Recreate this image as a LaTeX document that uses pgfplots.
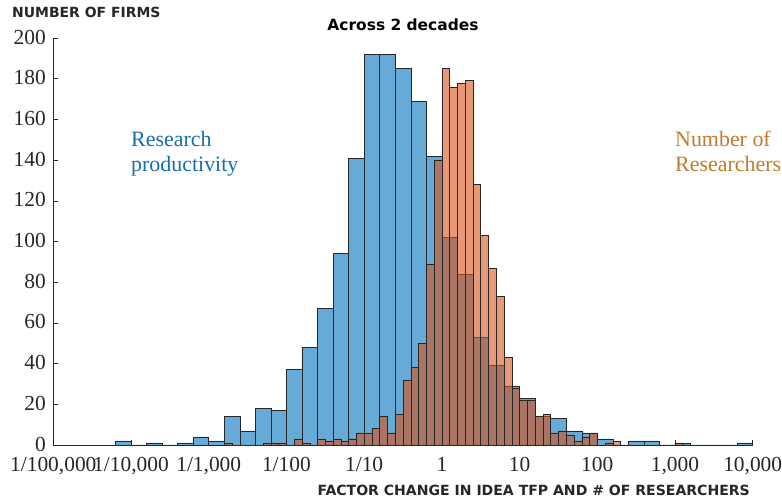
\documentclass[border=0pt]{standalone}
\usepackage{fontspec}
\setmainfont{Liberation Serif}
\newfontfamily\dejavu{DejaVu Sans}
\usepackage{pgfplots}
\pgfplotsset{compat=1.18}
\definecolor{mblue}{RGB}{0,114,189}
\definecolor{morange}{RGB}{217,83,25}
\definecolor{txtblue}{RGB}{20,110,175}
\definecolor{txtorange}{RGB}{190,125,45}
\begin{document}
\begin{tikzpicture}[x=1bp,y=1bp]
\useasboundingbox (-53.3,-57) rectangle (728.7,445);
\begin{axis}[
  at={(0,0)}, anchor=south west,
  scale only axis, width=699.4bp, height=407bp,
  xmin=-5, xmax=4, ymin=0, ymax=200,
  axis x line*=bottom, axis y line*=left,
  axis line style={-, draw=black!85, line width=0.5bp},
  tick align=inside, major tick length=5bp,
  tick style={draw=black!85, line width=0.5bp},
  xtick={-5,-4,-3,-2,-1,0,1,2,3,4},
  xticklabels={1/100{,}000,1/10{,}000,1/1{,}000,1/100,1/10,1,10,100,1{,}000,10{,}000},
  ytick={0,20,...,200},
  /pgf/number format/assume math mode=true,
  ticklabel style={font=\fontsize{21.5}{24}\selectfont, text=black!85},
  xticklabel style={yshift=-9bp},
  yticklabel style={xshift=-4bp, yshift=1bp},
  clip=false,
]
% Research productivity (bin width 0.2 decades)
\addplot[ybar interval, fill=mblue, fill opacity=0.6, draw=black!85, line width=0.45bp] coordinates {
(-4.2,2) (-4.0,0) (-3.8,1) (-3.6,0) (-3.4,1) (-3.2,4) (-3.0,2) (-2.8,14) (-2.6,7)
(-2.4,18) (-2.2,17) (-2.0,37) (-1.8,48) (-1.6,67) (-1.4,94) (-1.2,141) (-1.0,192)
(-0.8,192) (-0.6,185) (-0.4,169) (-0.2,142) (0.0,102) (0.2,84) (0.4,53) (0.6,39)
(0.8,29) (1.0,23) (1.2,14) (1.4,13) (1.6,7) (1.8,6) (2.0,3) (2.2,0) (2.4,2) (2.6,2)
(2.8,0) (3.0,1) (3.2,0) (3.4,0) (3.6,0) (3.8,1) (4.0,0)
};
% Number of researchers (bin width 0.1 decades)
\addplot[ybar interval, fill=morange, fill opacity=0.6, draw=black!85, line width=0.45bp] coordinates {
(-2.8,1) (-2.7,0) (-2.6,0) (-2.5,0) (-2.4,0) (-2.3,1) (-2.2,1) (-2.1,1) (-2.0,0)
(-1.9,3) (-1.8,1) (-1.7,0) (-1.6,3) (-1.5,2) (-1.4,3) (-1.3,2) (-1.2,3) (-1.1,6)
(-1.0,6) (-0.9,8) (-0.8,14) (-0.7,6) (-0.6,15) (-0.5,32) (-0.4,38) (-0.3,50)
(-0.2,89) (-0.1,140) (0.0,185) (0.1,176) (0.2,178) (0.3,179) (0.4,128) (0.5,103)
(0.6,87) (0.7,73) (0.8,43) (0.9,28) (1.0,22) (1.1,22) (1.2,14) (1.3,15) (1.4,6)
(1.5,7) (1.6,5) (1.7,2) (1.8,4) (1.9,6) (2.0,0) (2.1,1) (2.2,2) (2.3,0) (2.4,0)
(2.5,0) (2.6,0) (2.7,0) (2.8,0) (2.9,0) (3.0,1) (3.1,0)
};
\end{axis}
\node[anchor=center, font=\dejavu\bfseries\fontsize{15.5}{17}\selectfont] at (349.7,420) {Across 2 decades};
\node[anchor=west, inner sep=0pt, font=\dejavu\bfseries\fontsize{14}{16}\selectfont, text=black!85] at (-41.3,433) {NUMBER OF FIRMS};
\node[anchor=east, inner sep=0pt, font=\dejavu\bfseries\fontsize{14.1}{16}\selectfont, text=black!85] at (696.7,-45) {FACTOR CHANGE IN IDEA TFP AND \# OF RESEARCHERS};
\node[anchor=base west, inner sep=0pt, font=\fontsize{22}{24}\selectfont, text=txtblue] at (77.7,298) {Research};
\node[anchor=base west, inner sep=0pt, font=\fontsize{22}{24}\selectfont, text=txtblue] at (77.7,273) {productivity};
\node[anchor=base west, inner sep=0pt, font=\fontsize{22}{24}\selectfont, text=txtorange] at (621.7,298) {Number of};
\node[anchor=base west, inner sep=0pt, font=\fontsize{22}{24}\selectfont, text=txtorange] at (621.7,273) {Researchers};
\end{tikzpicture}
\end{document}
